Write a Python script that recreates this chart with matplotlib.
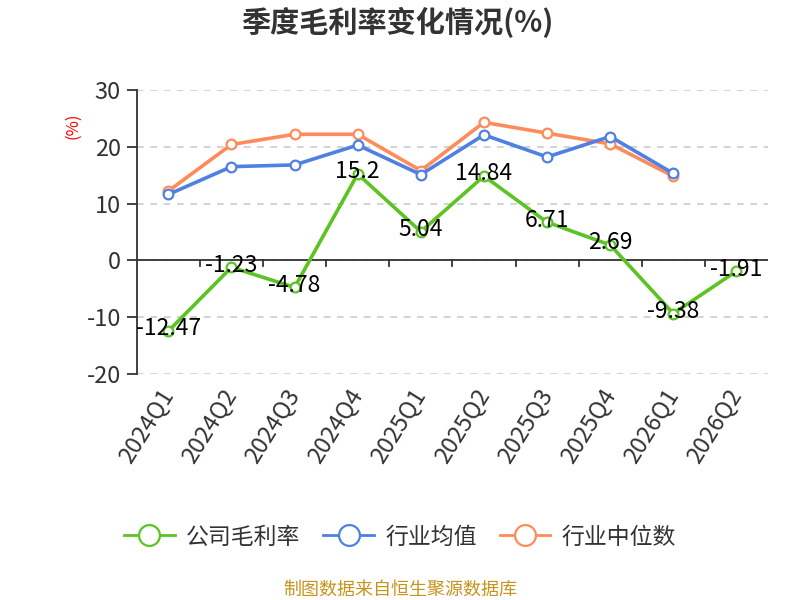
import numpy as np
import matplotlib
matplotlib.use("Agg")
import matplotlib.pyplot as plt

plt.rcParams['font.family'] = ['Noto Sans CJK SC', 'DejaVu Sans']

# 数据
quarters = ['2024Q1', '2024Q2', '2024Q3', '2024Q4', '2025Q1', '2025Q2',
            '2025Q3', '2025Q4', '2026Q1', '2026Q2']
company = [-12.47, -1.23, -4.78, 15.2, 5.04, 14.84, 6.71, 2.69, -9.38, -1.91]
industry_avg = [11.6, 16.5, 16.8, 20.3, 15.1, 22.1, 18.2, 21.8, 15.3]
industry_med = [12.2, 20.4, 22.2, 22.2, 15.8, 24.3, 22.4, 20.5, 14.8]
y_ticks = [-20, -10, 0, 10, 20, 30]

c_green = '#5bc322'
c_blue = '#4f80e2'
c_orange = '#ff8b5a'

fig = plt.figure(figsize=(8, 6), dpi=100)
ax = fig.add_axes([0.171, 0.377, 0.789, 0.473])

x = np.arange(len(quarters))
mk = dict(marker='o', markersize=7, markerfacecolor='white', markeredgewidth=1.6, linewidth=2.6)
ax.plot(x[:len(industry_med)], industry_med, color=c_orange, zorder=3, **mk)
ax.plot(x[:len(industry_avg)], industry_avg, color=c_blue, zorder=4, **mk)
ax.plot(x, company, color=c_green, zorder=5, **mk)

# 数据标签
for xi, v in zip(x, company):
    ax.annotate(f'{v:g}', (xi, v), xytext=(0, 1.5), textcoords='offset points',
                ha='center', va='center', fontsize=16.5, color='black', zorder=6)

ax.set_xlim(-0.5, len(quarters) - 0.5)
ax.set_ylim(-20, 30)
ax.set_yticks(y_ticks)
ax.set_yticklabels([str(t) for t in y_ticks], fontsize=17, color='#333333')
ax.grid(axis='y', linestyle=(0, (4, 4)), color='#cccccc', linewidth=1.2)
ax.set_axisbelow(True)

for s in ['top', 'right', 'bottom']:
    ax.spines[s].set_visible(False)
ax.spines['left'].set_color('#333333')
ax.spines['left'].set_linewidth(1.3)
ax.tick_params(axis='y', length=7.5, width=1.3, color='#333333', pad=4)

# 零轴与刻度
ax.axhline(0, color='#333333', linewidth=1.3, zorder=2)
for b in np.arange(0.5, len(quarters) - 0.5, 1.0):
    ax.plot([b, b], [0, -1.0], color='#333333', linewidth=1.3, zorder=2, clip_on=False)

ax.set_xticks(x)
ax.set_xticklabels(quarters, rotation=58, ha='right', va='center', fontsize=17,
                   color='#333333', rotation_mode='anchor')
ax.tick_params(axis='x', length=0, pad=12)

fig.text(0.091, 0.79, '(%)', color='red', rotation=90, fontsize=12, ha='center', va='center')
fig.text(0.497, 0.962, '季度毛利率变化情况(%)', fontsize=21, fontweight='bold',
         color='#333333', ha='center', va='center')

handles = [plt.Line2D([], [], color=c, marker='o', markersize=15, markerfacecolor='white',
                      markeredgewidth=1.6, linewidth=2)
           for c in (c_green, c_blue, c_orange)]
fig.legend(handles, ['公司毛利率', '行业均值', '行业中位数'], loc='center',
           bbox_to_anchor=(0.5, 0.105), ncol=3, frameon=False, fontsize=16.5,
           handlelength=2.2, columnspacing=1.0, handletextpad=0.5, labelcolor='#333333')

fig.text(0.5, 0.018, '制图数据来自恒生聚源数据库', color='#c8921e', fontsize=13,
         ha='center', va='center')

fig.savefig('out.png', dpi=100)
